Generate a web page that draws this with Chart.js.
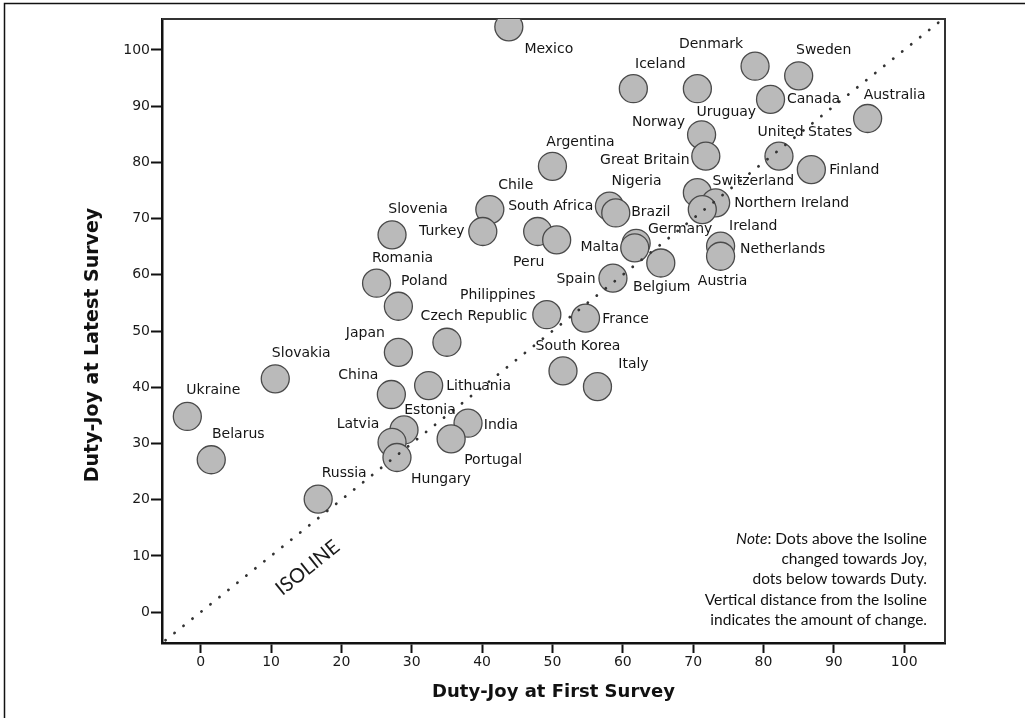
<!DOCTYPE html>
<html>
<head>
<meta charset="utf-8">
<title>Duty-Joy at First and Latest Survey</title>
<script src="https://cdn.jsdelivr.net/npm/chart.js@4.4.0/dist/chart.umd.min.js"></script>
<style>
  html, body { margin: 0; padding: 0; background: #fff; }
  #wrap { position: relative; width: 1025px; height: 718px; }
</style>
</head>
<body>
<div id="wrap"><canvas id="dutyJoyChart" width="1025" height="718"></canvas></div>
<script>
// --- Data ---
const countries = [
    'Mexico', 'Denmark', 'Sweden', 'Iceland', 'Uruguay', 'Canada', 'Australia',
    'Norway', 'United States', 'Great Britain', 'Argentina', 'Finland', 'Switzerland',
    'Northern Ireland', 'Nigeria', 'Chile', 'Ireland', 'Brazil', 'Turkey', 'South Africa',
    'Slovenia', 'Peru', 'Germany', 'Malta', 'Netherlands', 'Austria', 'Belgium', 'Spain',
    'Romania', 'Poland', 'Philippines', 'France', 'Czech Republic', 'Japan', 'South Korea',
    'Slovakia', 'Lithuania', 'Italy', 'China', 'Ukraine', 'India', 'Estonia', 'Portugal',
    'Latvia', 'Hungary', 'Belarus', 'Russia'
];
const firstSurvey = [
    43.8, 78.8, 85.0, 61.5, 70.6, 81.0, 94.8,
    71.2, 82.2, 71.8, 50.0, 86.8, 70.6,
    73.2, 58.1, 41.1, 71.3, 59.0, 40.1, 47.9,
    27.2, 50.6, 61.9, 61.7, 73.9, 73.9, 65.4, 58.6,
    25.0, 28.1, 49.2, 54.7, 35.0, 28.1, 51.5,
    10.6, 32.4, 56.4, 27.1, -1.9, 38.0, 28.9, 35.6,
    27.2, 27.9, 1.5, 16.7
];
const latestSurvey = [
    104.1, 97.1, 95.4, 93.1, 93.1, 91.2, 87.8,
    84.9, 81.1, 81.1, 79.3, 78.7, 74.6,
    72.8, 72.2, 71.6, 71.6, 71.0, 67.7, 67.7,
    67.1, 66.2, 65.6, 64.8, 65.1, 63.3, 62.1, 59.4,
    58.5, 54.4, 52.9, 52.3, 48.0, 46.2, 42.9,
    41.5, 40.3, 40.1, 38.7, 34.8, 33.6, 32.4, 30.8,
    30.2, 27.5, 27.1, 20.1
];
const xTicks = [0, 10, 20, 30, 40, 50, 60, 70, 80, 90, 100];
const yTicks = [0, 10, 20, 30, 40, 50, 60, 70, 80, 90, 100];
const isolineEnds = [-5, 105];

const xTitle = 'Duty-Joy at First Survey';
const yTitle = 'Duty-Joy at Latest Survey';
const isolineText = 'ISOLINE';
const noteLines = [
    ': Dots above the Isoline',
    'changed towards Joy,',
    'dots below towards Duty.',
    'Vertical distance from the Isoline',
    'indicates the amount of change.'
];

// --- Label placement (pixel offset of label centre from the dot) ---
const labelOffsets = {
    'Mexico': [40, 22], 'Denmark': [-44, -22], 'Sweden': [25, -25], 'Iceland': [27, -24],
    'Uruguay': [29, 24], 'Canada': [43, 0], 'Australia': [27, -23], 'Norway': [-43, -12],
    'United States': [26, -24], 'Great Britain': [-61, 4], 'Argentina': [28, -24],
    'Finland': [43, 1], 'Switzerland': [56, -11], 'Northern Ireland': [76, 1],
    'Nigeria': [27, -25], 'Chile': [26, -24], 'Ireland': [51, 17], 'Brazil': [35, -1],
    'Turkey': [-41, 0], 'South Africa': [13, -25], 'Slovenia': [26, -26], 'Peru': [-28, 22],
    'Germany': [44, -14], 'Malta': [-35, 0], 'Netherlands': [62, 3], 'Austria': [2, 25],
    'Belgium': [1, 24], 'Spain': [-37, 1], 'Romania': [26, -25], 'Poland': [26, -25],
    'Philippines': [-49, -19], 'France': [40, 1], 'Czech Republic': [27, -26],
    'Japan': [-33, -19], 'South Korea': [15, -25], 'Slovakia': [26, -25],
    'Lithuania': [50, 1], 'Italy': [36, -22], 'China': [-33, -19], 'Ukraine': [26, -26],
    'India': [33, 2], 'Estonia': [26, -20], 'Portugal': [42, 21], 'Latvia': [-34, -18],
    'Hungary': [44, 22], 'Belarus': [27, -25], 'Russia': [26, -26]
};
const isoLabelAt = { x: 15.2, y: 7.9 };

const LABEL_FONT = '14px "DejaVu Sans"';
const TICK_FONT = { family: 'DejaVu Sans', size: 14 };

// --- Extra drawing: frame, country labels, titles, note ---
const annotations = {
    id: 'annotations',
    beforeDraw(chart) {
        const ctx = chart.ctx;
        ctx.save();
        ctx.strokeStyle = '#111';
        ctx.lineWidth = 1.5;
        ctx.beginPath();
        ctx.moveTo(4.5, chart.height);
        ctx.lineTo(4.5, 3.5);
        ctx.lineTo(chart.width, 3.5);
        ctx.stroke();
        ctx.restore();
    },
    beforeDatasetsDraw(chart) {
        const { ctx, chartArea: a } = chart;
        ctx.save();
        ctx.strokeStyle = '#333';
        ctx.lineWidth = 2;
        ctx.beginPath();
        ctx.moveTo(a.left, a.top);
        ctx.lineTo(a.right, a.top);
        ctx.lineTo(a.right, a.bottom);
        ctx.stroke();
        ctx.restore();
    },
    afterDatasetsDraw(chart) {
        const ctx = chart.ctx;
        const meta = chart.getDatasetMeta(1);
        ctx.save();
        ctx.font = LABEL_FONT;
        ctx.fillStyle = '#151515';
        ctx.textAlign = 'center';
        ctx.textBaseline = 'middle';
        meta.data.forEach((pt, i) => {
            const off = labelOffsets[countries[i]] || [0, -22];
            ctx.fillText(countries[i], pt.x + off[0], pt.y + off[1]);
        });
        ctx.restore();
    },
    afterDraw(chart) {
        const { ctx, chartArea: a, scales: { x, y } } = chart;
        ctx.save();
        ctx.fillStyle = '#111';
        ctx.textBaseline = 'middle';
        ctx.textAlign = 'center';

        // axis titles
        ctx.font = 'bold 18px "DejaVu Sans"';
        ctx.fillText(xTitle, (a.left + a.right) / 2, 692);
        ctx.save();
        ctx.translate(93, 345);
        ctx.rotate(-Math.PI / 2);
        ctx.font = 'bold 19px "DejaVu Sans"';
        ctx.fillText(yTitle, 0, 0);
        ctx.restore();

        // isoline label, rotated along the line
        const p0x = x.getPixelForValue(isolineEnds[0]), p0y = y.getPixelForValue(isolineEnds[0]);
        const p1x = x.getPixelForValue(isolineEnds[1]), p1y = y.getPixelForValue(isolineEnds[1]);
        ctx.save();
        ctx.translate(x.getPixelForValue(isoLabelAt.x), y.getPixelForValue(isoLabelAt.y));
        ctx.rotate(Math.atan2(p1y - p0y, p1x - p0x));
        ctx.font = '20px Lato';
        ctx.fillStyle = '#1a1a1a';
        ctx.fillText(isolineText, 0, 0);
        ctx.restore();

        // note
        const right = 927;
        ctx.textAlign = 'right';
        ctx.font = '15.5px Lato';
        noteLines.forEach((line, i) => ctx.fillText(line, right, 539 + i * 20.2));
        const restW = ctx.measureText(noteLines[0]).width;
        ctx.font = 'italic 15.5px Lato';
        ctx.fillText('Note', right - restW, 539);
        ctx.restore();
    }
};

new Chart(document.getElementById('dutyJoyChart'), {
    data: {
        datasets: [
            {
                type: 'line',
                label: 'Isoline',
                data: isolineEnds.map(v => ({ x: v, y: v })),
                borderColor: '#333',
                borderWidth: 2.8,
                borderDash: [0.1, 11.4],
                borderCapStyle: 'round',
                pointRadius: 0,
                fill: false
            },
            {
                type: 'scatter',
                label: 'Countries',
                data: countries.map((c, i) => ({ x: firstSurvey[i], y: latestSurvey[i] })),
                backgroundColor: '#bababa',
                borderColor: '#4a4a4a',
                borderWidth: 1.3,
                pointRadius: 14,
                clip: 0
            }
        ]
    },
    options: {
        responsive: false,
        animation: false,
        events: [],
        layout: { padding: { left: 0, top: 19, right: 80, bottom: 0 } },
        plugins: {
            legend: { display: false },
            tooltip: { enabled: false }
        },
        scales: {
            x: {
                type: 'linear',
                position: 'bottom',
                min: -5.5,
                max: 105.8,
                afterBuildTicks: (s) => { s.ticks = xTicks.map(v => ({ value: v })); },
                afterFit: (s) => { s.height = 75; },
                ticks: { font: TICK_FONT, color: '#1a1a1a', padding: 1, maxRotation: 0 },
                grid: { drawOnChartArea: false, drawTicks: true, tickLength: 10, tickWidth: 2, tickColor: '#111' },
                border: { display: true, color: '#111', width: 2.5 }
            },
            y: {
                type: 'linear',
                position: 'left',
                min: -5.5,
                max: 105.5,
                afterBuildTicks: (s) => { s.ticks = yTicks.map(v => ({ value: v })); },
                afterFit: (s) => { s.width = 162; },
                ticks: { font: TICK_FONT, color: '#1a1a1a', padding: 1 },
                grid: { drawOnChartArea: false, drawTicks: true, tickLength: 11, tickWidth: 2, tickColor: '#111' },
                border: { display: true, color: '#111', width: 2.5 }
            }
        }
    },
    plugins: [annotations]
});
</script>
</body>
</html>
